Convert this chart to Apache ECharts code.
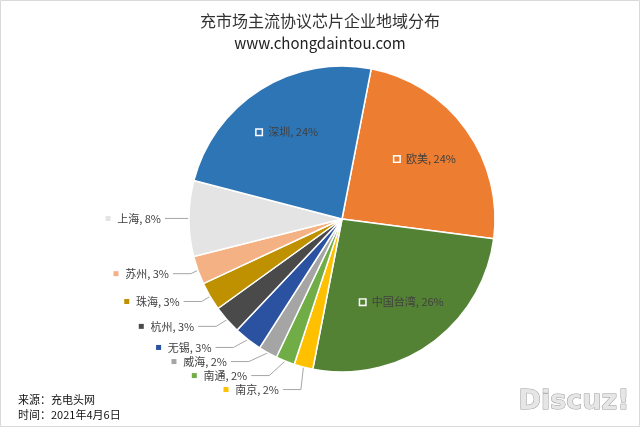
<!DOCTYPE html>
<html>
<head>
<meta charset="utf-8">
<script src="https://cdn.jsdelivr.net/npm/echarts@6/dist/echarts.min.js"></script>
<style>
html,body{margin:0;padding:0;background:#fff;}
#chart{width:640px;height:427px;}
</style>
</head>
<body>
<div id="chart"></div>
<script>
const titleText = '充市场主流协议芯片企业地域分布';
const subtitleText = 'www.chongdaintou.com';
const sourceText = '来源：充电头网';
const dateText = '时间：2021年4月6日';
const categories = ['欧美', '中国台湾', '南京', '南通', '威海', '无锡', '杭州', '珠海', '苏州', '上海', '深圳'];
const values = [24, 26, 2, 2, 2, 3, 3, 3, 3, 8, 24];
const colors = ['#ED7D31', '#548235', '#FFC000', '#70AD47', '#A5A5A5', '#2B52A0', '#4A4A4A', '#BF9000', '#F4B183', '#E4E4E4', '#2E75B6'];
const insideLabelNames = ['欧美', '中国台湾', '深圳'];

const FONT = "'Noto Sans CJK SC', 'Noto Sans', sans-serif";

function markerRich(color, inside) {
  return inside
    ? { width: 5, height: 5, backgroundColor: color, borderColor: '#fff', borderWidth: 1.5 }
    : { width: 5, height: 5, backgroundColor: color };
}

const visibleData = categories.map((name, i) => {
  const inside = insideLabelNames.includes(name);
  return {
    name: name,
    value: values[i],
    itemStyle: { color: colors[i] },
    label: inside ? { show: false } : {
      show: true,
      formatter: '{m|}  {b|{b}, {d}%}',
      rich: { m: markerRich(colors[i], false), b: { fontSize: 11, color: '#404040', fontFamily: FONT } }
    },
    labelLine: { show: !inside }
  };
});

const labelData = categories.map((name, i) => {
  const inside = insideLabelNames.includes(name);
  return {
    name: name,
    value: values[i],
    label: inside ? {
      show: true,
      formatter: '{m|}  {b|{b}, {d}%}',
      rich: { m: markerRich(colors[i], true), b: { fontSize: 11, color: '#404040', fontFamily: FONT } }
    } : { show: false }
  };
});

const chart = echarts.init(document.getElementById('chart'), null, { renderer: 'canvas' });
chart.setOption({
  backgroundColor: '#fff',
  animation: false,
  title: [
    { text: titleText, left: 'center', top: 8,
      textStyle: { fontSize: 16, fontWeight: 'normal', color: '#333', fontFamily: FONT } },
    { text: subtitleText, left: 'center', top: 31,
      textStyle: { fontSize: 15, fontWeight: 'normal', color: '#222', fontFamily: FONT } },
    { text: sourceText, left: 13, top: 389,
      textStyle: { fontSize: 11, fontWeight: 'normal', color: '#111', fontFamily: FONT } },
    { text: dateText, left: 13, top: 404,
      textStyle: { fontSize: 11, fontWeight: 'normal', color: '#111', fontFamily: FONT } }
  ],
  graphic: [
    { type: 'rect', shape: { x: 0.5, y: 0.5, width: 639, height: 426 }, style: { fill: 'none', stroke: '#d9d9d9', lineWidth: 1 }, z: 100 },
    { type: 'text', left: 518, top: 388, style: { text: 'Discuz!', fontSize: 27, fontWeight: 'bold', fontFamily: "'DejaVu Sans', sans-serif", fill: '#e6e6e6', stroke: '#9a9a9a', lineWidth: 1 }, z: 100 }
  ],
  series: [
    {
      type: 'pie',
      center: [342, 219],
      radius: [0, 153],
      startAngle: 79,
      clockwise: true,
      avoidLabelOverlap: true,
      itemStyle: { borderColor: '#fff', borderWidth: 1.5 },
      label: { position: 'outside', distanceToLabelLine: 4 },
      labelLine: { length: 10, length2: 18, lineStyle: { color: '#a6a6a6', width: 1 } },
      emphasis: { disabled: true },
      data: visibleData
    },
    {
      type: 'pie',
      center: [342, 219],
      radius: [0, 199],
      startAngle: 79,
      clockwise: true,
      silent: true,
      z: 5,
      itemStyle: { color: 'rgba(0,0,0,0)', borderWidth: 0 },
      label: { position: 'inside' },
      labelLine: { show: false },
      emphasis: { disabled: true },
      data: labelData
    }
  ]
});
</script>
</body>
</html>
